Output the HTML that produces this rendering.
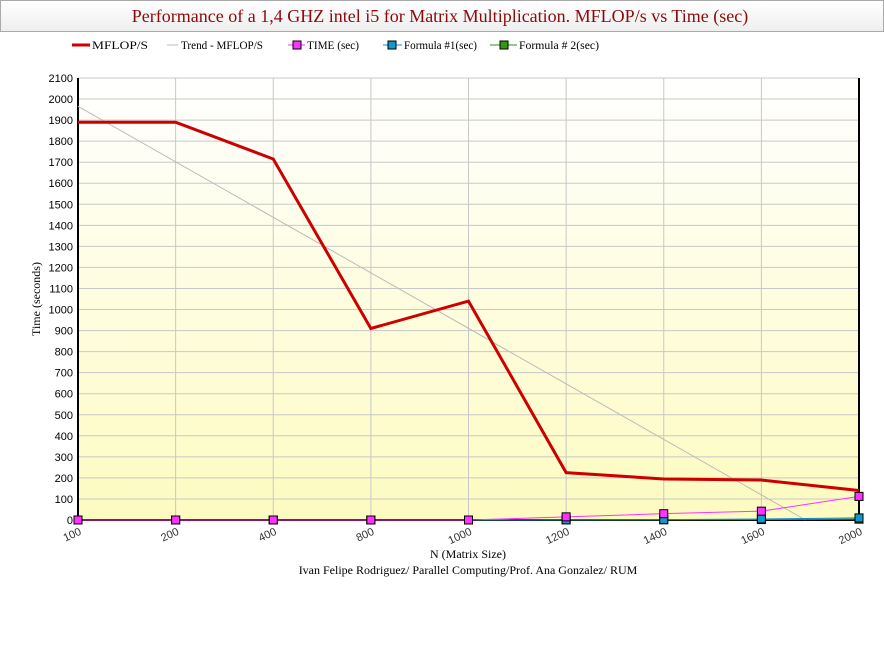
<!DOCTYPE html>
<html><head><meta charset="utf-8">
<style>
body{margin:0;background:#fff;width:884px;height:650px;overflow:hidden;font-family:"Liberation Serif",serif;}
</style></head>
<body>
<svg id="chart" width="884" height="650" xmlns="http://www.w3.org/2000/svg">
<defs>
<linearGradient id="bg" x1="0" y1="0" x2="0" y2="1">
<stop offset="0" stop-color="#ffffff"/><stop offset="1" stop-color="#fdfbc0"/>
</linearGradient>
<linearGradient id="tb" x1="0" y1="0" x2="0" y2="1">
<stop offset="0" stop-color="#ffffff"/><stop offset="1" stop-color="#eeeeee"/>
</linearGradient>
</defs>
<rect x="0.5" y="0.5" width="883" height="31" fill="url(#tb)" stroke="#aaa"/>
<text x="440" y="22" text-anchor="middle" font-size="18" fill="#8b0a0a">Performance of a 1,4 GHZ intel i5 for Matrix Multiplication. MFLOP/s vs Time (sec)</text>
<g id="legend" font-size="11.5" fill="#000">
<g><line x1="72" y1="45" x2="90" y2="45" stroke="#cc0000" stroke-width="3"/><text x="92" y="49" textLength="56" lengthAdjust="spacingAndGlyphs">MFLOP/S</text></g>
<g><line x1="167" y1="45" x2="178" y2="45" stroke="#bbb"/><text x="181" y="49" textLength="82" lengthAdjust="spacingAndGlyphs">Trend - MFLOP/S</text></g>
<g><line x1="288" y1="45" x2="305" y2="45" stroke="#ff33ff"/><rect x="293" y="41" width="8" height="8" fill="#ff33ff" stroke="#000"/><text x="307" y="49" textLength="52" lengthAdjust="spacingAndGlyphs">TIME (sec)</text></g>
<g><line x1="383" y1="45" x2="402" y2="45" stroke="#1188cc"/><rect x="388" y="41" width="8" height="8" fill="#1199cc" stroke="#000"/><text x="404" y="49" textLength="73" lengthAdjust="spacingAndGlyphs">Formula #1(sec)</text></g>
<g><line x1="490" y1="45" x2="517" y2="45" stroke="#338822"/><rect x="500" y="41" width="8" height="8" fill="#339911" stroke="#000"/><text x="519" y="49" textLength="80" lengthAdjust="spacingAndGlyphs">Formula # 2(sec)</text></g>
</g>
<rect x="78" y="78" width="781" height="442" fill="url(#bg)"/>
<g id="grid"></g>
<g id="yticks" font-size="11" text-anchor="end" font-family="Liberation Sans, sans-serif"></g>
<g id="xticks" font-size="11" font-family="Liberation Sans, sans-serif"></g>
<g id="series"></g>
<text transform="translate(40,299) rotate(-90)" text-anchor="middle" font-size="12">Time (seconds)</text>
<text x="468" y="558" text-anchor="middle" font-size="12">N (Matrix Size)</text>
<text x="468" y="574" text-anchor="middle" font-size="12">Ivan Felipe Rodriguez/ Parallel Computing/Prof. Ana Gonzalez/ RUM</text>
</svg>
<script>
const categories=["100","200","400","800","1000","1200","1400","1600","2000"];
const mflops=[1890,1890,1715,910,1040,225,195,190,140];
const timeSec=[0,0,0,0,0,15,30,42,112];
const formula1=[0,0,0,0,0,1,2,5,10];
const formula2=[0,0,0,0,0,0.5,1,2,4];
const yTicks=[0,100,200,300,400,500,600,700,800,900,1000,1100,1200,1300,1400,1500,1600,1700,1800,1900,2000,2100];
const NS="http://www.w3.org/2000/svg";
const X0=78,X1=859,Y0=520,Y1=78,YMAX=2100;
const xs=i=>X0+(X1-X0)*i/(categories.length-1);
const ys=v=>Y0-(Y0-Y1)*v/YMAX;
function mk(tag,attrs,parent){const e=document.createElementNS(NS,tag);for(const k in attrs)e.setAttribute(k,attrs[k]);parent.appendChild(e);return e;}
const grid=document.getElementById('grid'),yt=document.getElementById('yticks'),xt=document.getElementById('xticks'),ser=document.getElementById('series');
yTicks.forEach(v=>{
 const l=mk('line',{x1:X0,x2:X1,y1:ys(v),y2:ys(v),stroke:'#c8c8c8'},grid);
 
 
 const t=mk('text',{x:X0-5,y:ys(v)+4},yt);t.textContent=v;
 
 
});
categories.forEach((c,i)=>{
 const l=mk('line',{x1:xs(i),x2:xs(i),y1:Y1,y2:Y0+4,stroke:'#c8c8c8'},grid);
 
 
 const t=mk('text',{x:xs(i)+4,y:Y0+14,'text-anchor':'end',transform:`rotate(-25 ${xs(i)+4} ${Y0+14})`,fill:'#333'},xt);t.textContent=c;
 
 
});
const ax=mk('path',{d:`M${X0} ${Y1}V${Y0}H${X1}V${Y1}`,fill:'none',stroke:'#000','stroke-width':2},grid);


const n=mflops.length;let mx=(n-1)/2,my=mflops.reduce((a,b)=>a+b)/n,sxy=0,sxx=0;
mflops.forEach((v,i)=>{sxy+=(i-mx)*(v-my);sxx+=(i-mx)*(i-mx);});
const slope=sxy/sxx,icpt=my-slope*mx;
let xEnd=n-1,yEnd=icpt+slope*(n-1);
if(yEnd<0){xEnd=-icpt/slope;yEnd=0;}
const tr=mk('line',{x1:xs(0),y1:ys(icpt),x2:xs(xEnd),y2:ys(yEnd),stroke:'#bbbbbb'},ser);


function line(data,color,w,name){
 const p=mk('polyline',{points:data.map((v,i)=>xs(i)+','+ys(v)).join(' '),fill:'none',stroke:color,'stroke-width':w},ser);
 
 
}
function markers(data,color,name){
 data.forEach((v,i)=>{const r=mk('rect',{x:xs(i)-4,y:ys(v)-4,width:8,height:8,fill:color,stroke:'#000'},ser);
 
 });
}
line(formula2,'#339911',1,'formula2-line');
line(formula1,'#1188cc',1,'formula1-line');
line(timeSec,'#ff33ff',1,'time-line');
markers(formula2,'#339911','formula2-point');
markers(formula1,'#1199cc','formula1-point');
markers(timeSec,'#ff33ff','time-point');
line(mflops,'#cc0000',3,'mflops-line');
</script>
</body></html>
